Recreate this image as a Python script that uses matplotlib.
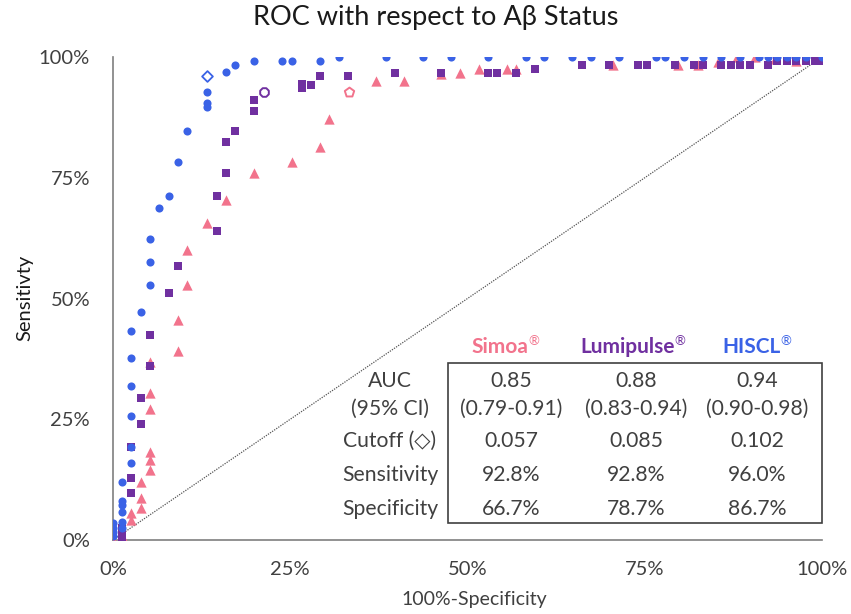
import matplotlib
matplotlib.use("Agg")
import matplotlib.pyplot as plt
from matplotlib.patches import Rectangle
from matplotlib.ticker import FuncFormatter

plt.rcParams['font.family'] = ['Lato', 'DejaVu Sans']

# ---------------- data (percent) ----------------
hiscl_x = [0, 0, 0, 0, 1.2, 1.2, 1.2, 1.2, 1.2, 1.2, 2.5, 2.5, 2.5, 2.5, 2.5, 2.5,
           3.9, 5.2, 5.2, 5.2, 6.5, 7.9, 9.2, 10.5, 13.2, 13.2, 13.2, 15.9, 17.2,
           19.9, 23.9, 25.2, 29.2, 31.9, 38.5, 43.7, 47.7, 52.9, 58.2, 60.8, 64.8,
           67.4, 71.4, 76.6, 77.9, 80.6, 83.2, 85.8, 88.5, 91.1, 92.4, 93.7, 95.1,
           96.4, 97.7, 100]
hiscl_y = [0.8, 1.6, 2.4, 3.5, 3.7, 5.8, 7.2, 8.1, 12.1, 2.4, 16.0, 19.2, 25.6, 31.9,
           37.6, 43.2, 47.2, 52.8, 57.6, 62.3, 68.8, 71.2, 78.3, 84.7, 89.6, 90.4,
           92.7, 96.8, 98.3, 99.2, 99.2, 99.2, 99.2, 100, 100, 100, 100, 100, 100,
           100, 100, 100, 100, 100, 100, 100, 100, 100, 100, 100, 100, 100, 100,
           100, 100, 100]

lumi_x = [1.2, 1.2, 1.2, 2.5, 2.5, 2.5, 3.9, 3.9, 5.2, 5.2, 7.9, 9.2, 14.6, 14.6,
          15.9, 15.9, 17.2, 19.9, 19.9, 26.6, 26.6, 27.9, 29.2, 33.2, 39.8, 46.3,
          52.9, 54.2, 56.8, 59.5, 66.1, 70.0, 74.0, 75.3, 79.3, 81.9, 83.2, 85.8,
          87.2, 88.5, 89.8, 92.4, 93.7, 95.1, 96.4, 97.7, 99.0, 100]
lumi_y = [0.6, 1.6, 2.5, 9.8, 12.9, 19.2, 24.0, 29.5, 36.0, 42.4, 51.2, 56.7, 64.0,
          71.2, 75.9, 82.4, 84.7, 88.8, 91.1, 93.6, 94.4, 94.3, 96.0, 96.0, 96.7,
          96.7, 96.7, 96.7, 96.7, 97.5, 98.3, 98.3, 98.3, 98.3, 98.3, 98.3, 98.3,
          98.3, 98.3, 98.3, 98.3, 98.3, 99.2, 99.2, 99.2, 99.2, 99.2, 99.2]

simoa_x = [0, 1.2, 1.2, 2.5, 2.5, 3.9, 3.9, 3.9, 5.2, 5.2, 5.2, 5.2, 5.2, 5.2, 9.2,
           9.2, 10.5, 10.5, 13.2, 15.9, 19.9, 25.2, 29.2, 30.5, 37.1, 41.1, 46.3,
           49.0, 51.6, 55.6, 56.9, 70.5, 79.7, 82.5, 85.3, 88.0, 90.6, 93.4, 96.4,
           100]
simoa_y = [0, 0, 0.8, 4.1, 5.6, 6.6, 8.6, 12.1, 14.4, 16.6, 18.3, 27.1, 30.4, 36.9,
           39.2, 45.5, 52.8, 60.0, 65.6, 70.3, 75.9, 78.3, 81.4, 87.1, 95.0, 95.0,
           96.5, 96.7, 97.5, 97.5, 97.5, 98.3, 98.3, 98.3, 99.0, 100, 100, 99.5,
           99.2, 100]

# cutoff points (100% - specificity, sensitivity)
cut_simoa = (33.3, 92.8)
cut_lumi = (21.3, 92.8)
cut_hiscl = (13.3, 96.0)

assays = ["Simoa", "Lumipulse", "HISCL"]
row_labels = ["AUC", "(95% CI)", "Cutoff (◇)", "Sensitivity", "Specificity"]
auc = ["0.85", "0.88", "0.94"]
auc_ci = ["(0.79-0.91)", "(0.83-0.94)", "(0.90-0.98)"]
cutoff = ["0.057", "0.085", "0.102"]
sens = ["92.8%", "92.8%", "96.0%"]
spec = ["66.7%", "78.7%", "86.7%"]

ticks = [0, 25, 50, 75, 100]

# ---------------- style ----------------
PINK = "#F2738C"
PURPLE = "#7030A0"
BLUE = "#3A62E6"
TXT = "#404040"

W, H = 851, 614
fig = plt.figure(figsize=(W / 100, H / 100), dpi=100)
ax = fig.add_axes([113 / W, 1 - 540 / H, 709 / W, 483 / H])

def px(x, y):
    return x / W, 1 - y / H

ax.plot([0, 100], [0, 100], linestyle=(0, (1, 1)), color="#555555", lw=0.9, zorder=1)

ax.scatter(simoa_x, simoa_y, marker="^", s=55, color=PINK, zorder=3, lw=0)
ax.scatter(lumi_x, lumi_y, marker="s", s=38, color=PURPLE, zorder=4, lw=0)
ax.scatter(hiscl_x, hiscl_y, marker="o", s=34, color=BLUE, zorder=5, lw=0)

ax.scatter([cut_simoa[0]], [cut_simoa[1]], marker="p", s=50, facecolor="white",
           edgecolor=PINK, lw=1.4, zorder=6)
ax.scatter([cut_lumi[0]], [cut_lumi[1]], marker="8", s=45, facecolor="white",
           edgecolor=PURPLE, lw=1.4, zorder=6)
ax.scatter([cut_hiscl[0]], [cut_hiscl[1]], marker="D", s=30, facecolor="white",
           edgecolor=BLUE, lw=1.3, zorder=6)

ax.set_xlim(0, 100)
ax.set_ylim(0, 100)
ax.set_xticks(ticks)
ax.set_yticks(ticks)
fmt = FuncFormatter(lambda v, p: f"{v:.0f}%")
ax.xaxis.set_major_formatter(fmt)
ax.yaxis.set_major_formatter(fmt)
ax.tick_params(length=0, labelsize=14.5, colors=TXT)
ax.tick_params(axis="x", pad=15)
ax.tick_params(axis="y", pad=16.5)
for s in ["top", "right"]:
    ax.spines[s].set_visible(False)
for s in ["left", "bottom"]:
    ax.spines[s].set_color("#7f7f7f")
    ax.spines[s].set_linewidth(1.2)
for sp in ax.spines.values():
    sp.set_clip_on(False)

fig.text(*px(436, 18), "ROC with respect to Aβ Status", ha="center", va="center",
         fontsize=19.5, color="#1a1a1a")
fig.text(*px(25, 298), "Sensitivty", rotation=90, ha="center", va="center",
         fontsize=14.5, color="#1a1a1a")
fig.text(*px(474, 600), "100%-Specificity", ha="center", va="center",
         fontsize=14, color=TXT)

# ---------------- table ----------------
fig.patches.append(Rectangle(px(448, 523), 374 / W, 160 / H, transform=fig.transFigure,
                             fill=False, edgecolor="#404040", lw=1.2, figure=fig))

col_x = [511, 636, 757]
head_x = [500, 628, 752]
head_colors = [PINK, PURPLE, BLUE]
fig.canvas.draw()
renderer = fig.canvas.get_renderer()
for name, cx, c in zip(assays, head_x, head_colors):
    t = fig.text(*px(cx, 347), name, ha="center", va="center", fontsize=15,
                 fontweight="bold", color=c)
    bb = t.get_window_extent(renderer=renderer)
    fig.text(bb.x1 / W - 0.5 / W, px(0, 341)[1], "®", ha="left", va="center",
             fontsize=9.5, color=c)

tfs = 15.2
lab_x = 390
row_y = [381, 409, 441, 475, 509]
for lab, y in zip(row_labels, row_y):
    fig.text(*px(lab_x, y), lab, ha="center", va="center", fontsize=tfs, color=TXT)

for i, cx in enumerate(col_x):
    for vals, y in zip([auc, auc_ci, cutoff, sens, spec], row_y):
        fig.text(*px(cx, y), vals[i], ha="center", va="center", fontsize=tfs, color=TXT)

fig.savefig("out.png", dpi=100)
